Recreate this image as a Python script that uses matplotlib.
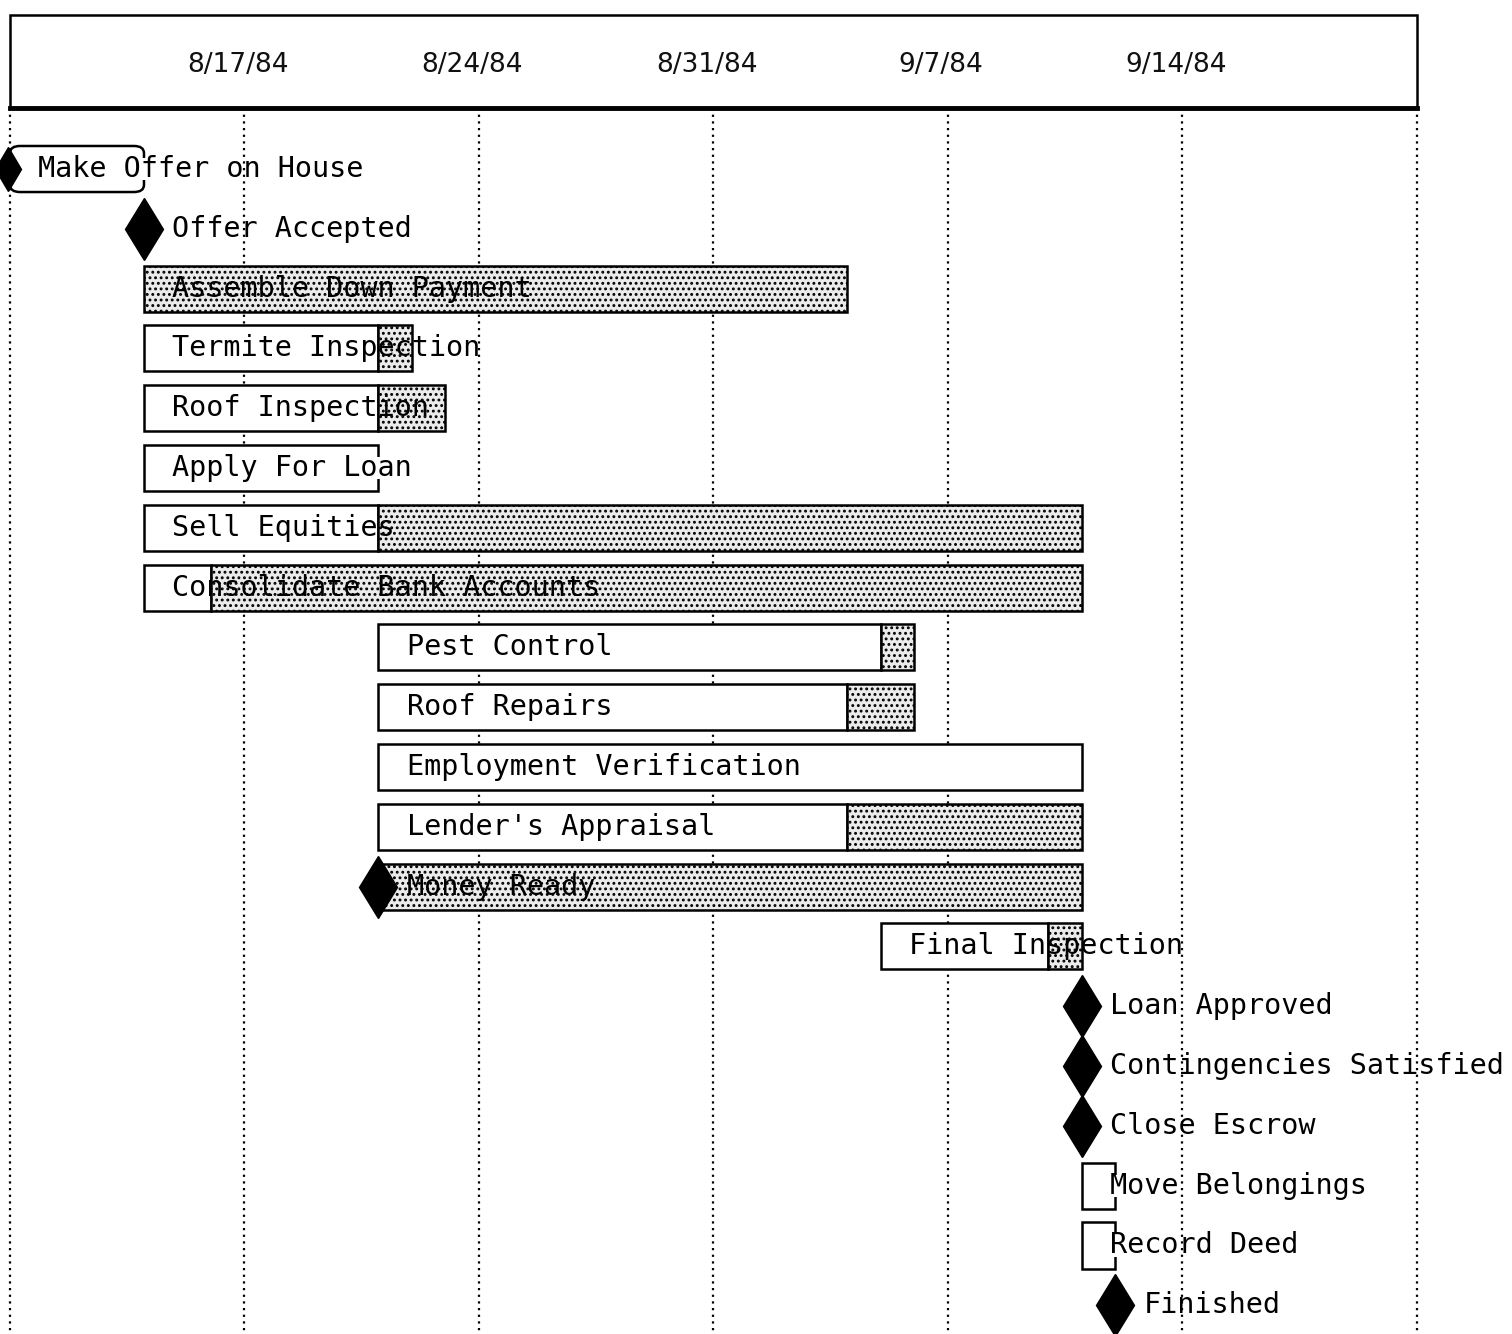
import matplotlib
matplotlib.use("Agg")
import matplotlib.pyplot as plt
from matplotlib.patches import Rectangle, FancyBboxPatch

# days counted from 8/10/84
week_days = [0, 7, 14, 21, 28, 35, 42]
week_labels = ['', '8/17/84', '8/24/84', '8/31/84', '9/7/84', '9/14/84', '']

tasks = ['Make Offer on House', 'Offer Accepted', 'Assemble Down Payment',
         'Termite Inspection', 'Roof Inspection', 'Apply For Loan',
         'Sell Equities', 'Consolidate Bank Accounts', 'Pest Control',
         'Roof Repairs', 'Employment Verification', "Lender's Appraisal",
         'Money Ready', 'Final Inspection', 'Loan Approved',
         'Contingencies Satisfied', 'Close Escrow', 'Move Belongings',
         'Record Deed', 'Finished']
start_day = [0, 4, 4, 4, 4, 4, 4, 4, 11, 11, 11, 11, 11, 26, 32, 32, 32, 32, 32, 33]
work_days = [4, 0, 0, 7, 7, 7, 7, 2, 15, 14, 21, 14, 0, 5, 0, 0, 0, 1, 1, 0]
slack_days = [0, 0, 21, 1, 2, 0, 21, 26, 1, 2, 0, 7, 21, 1, 0, 0, 0, 0, 0, 0]
kinds = ['start', 'milestone', 'task', 'task', 'task', 'open', 'task', 'task',
         'task', 'task', 'task', 'task', 'milestone', 'task', 'milestone',
         'milestone', 'milestone', 'open', 'open', 'milestone']

plt.rcParams['hatch.linewidth'] = 1.3
fig = plt.figure(figsize=(15.12, 13.34), dpi=100)
ax = fig.add_axes([0, 0, 1, 1])
ax.set_xlim(-0.2985, 44.84)
ax.set_ylim(19.48, -2.826)
ax.axis('off')

bar_h = 0.77
head_top, head_bot = -2.575, -1.02
lw = 1.8
stip = dict(fc='#ebebeb', ec='black', hatch='...', lw=lw, zorder=2)

# header box with dates
ax.add_patch(Rectangle((week_days[0], head_top), week_days[-1] - week_days[0],
                       head_bot - head_top, fill=False, lw=lw, ec='black', zorder=3))
ax.plot([week_days[0], week_days[-1]], [head_bot, head_bot], color='black', lw=3.5, zorder=3)
for d, lab in zip(week_days, week_labels):
    ax.text(d - 0.2, -1.74, lab, ha='center', va='center', fontsize=19,
            family='DejaVu Sans', color='#111111')
    ax.plot([d, d], [head_bot, 19.5], color='black', lw=1.6,
            linestyle=(0, (1, 2)), zorder=1)

for i, name in enumerate(tasks):
    x0 = start_day[i]
    w = work_days[i]
    s = slack_days[i]
    k = kinds[i]
    top = i - bar_h / 2
    bot = i + bar_h / 2
    if k == 'task':
        if w > 0:
            ax.add_patch(Rectangle((x0, top), w, bar_h, fc='white', ec='black',
                                   lw=lw, zorder=2))
        if s > 0:
            ax.add_patch(Rectangle((x0 + w, top), s, bar_h, **stip))
    elif k in ('open', 'start'):
        x1 = x0 + w
        if k == 'start':
            ax.add_patch(FancyBboxPatch((x0, top), w, bar_h, fc='white', ec='black',
                                        lw=lw, boxstyle='round,pad=0,rounding_size=0.3',
                                        mutation_aspect=0.4, zorder=2))
            ax.plot(x0 - 0.05, i, marker='d', markersize=22, color='black', zorder=4)
        else:
            ax.add_patch(Rectangle((x0, top), w, bar_h, fc='white', ec='black',
                                   lw=lw, zorder=2))
        # open right edge: only short ticks at the corners
        ax.add_patch(Rectangle((x1 - 0.1, top + 0.2), 0.2, bar_h - 0.4,
                               fc='white', ec='none', zorder=3))
    elif k == 'milestone':
        if s > 0:
            ax.add_patch(Rectangle((x0, top), s, bar_h, **stip))
        ax.plot(x0, i, marker='d', markersize=32, color='black', mec='black', zorder=4)
    ax.text(x0 + 0.85, i, name, ha='left', va='center', fontsize=20.5,
            family='DejaVu Sans Mono', color='black', zorder=5)

fig.savefig('out.png', dpi=100, facecolor='white')
